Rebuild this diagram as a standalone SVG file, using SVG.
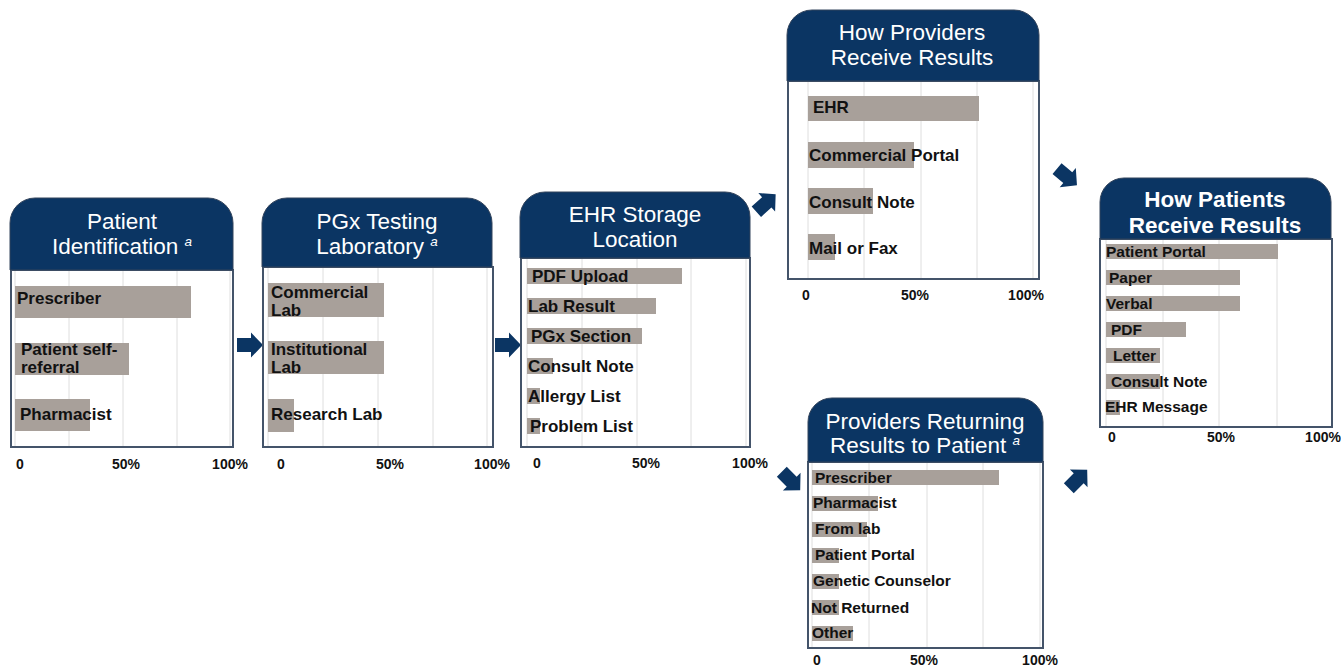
<svg xmlns="http://www.w3.org/2000/svg" xmlns:xlink="http://www.w3.org/1999/xlink" width="1341" height="669" viewBox="0 0 1341 669">
<style>
.hdr{fill:#0b3563;stroke:#33445c;stroke-width:1}
.body{fill:#ffffff;stroke:#44546a;stroke-width:2}
.grid{stroke:#dedede;stroke-width:1}
.bar{fill:#a8a09a}
.ht{font-family:"Liberation Sans",Arial,sans-serif;font-size:22.5px;fill:#ffffff;text-anchor:middle}
.htb{font-family:"Liberation Sans",Arial,sans-serif;font-size:22.5px;font-weight:bold;fill:#ffffff;text-anchor:middle}
.sup{font-style:italic;font-size:13.5px}
.lb{font-family:"Liberation Sans",Arial,sans-serif;font-weight:bold;fill:#111111}
.l17{font-size:17px}
.l16{font-size:17px}
.l15{font-size:15.5px}
.ax{font-family:"Liberation Sans",Arial,sans-serif;font-weight:bold;font-size:14px;fill:#111111;text-anchor:middle}
.arrow{fill:#0b3563}
</style>
<defs>
<path id="arr" d="M-13,-7 H1 V-12.5 L13,0 L1,12.5 V7 H-13 Z"/>
</defs>

<g id="connectors" class="arrow">
<use xlink:href="#arr" href="#arr" transform="translate(250,345)"/>
<use xlink:href="#arr" href="#arr" transform="translate(508,345)"/>
<use xlink:href="#arr" href="#arr" transform="translate(766,203) rotate(-42)"/>
<use xlink:href="#arr" href="#arr" transform="translate(791,481) rotate(45)"/>
<use xlink:href="#arr" href="#arr" transform="translate(1067,177) rotate(40)"/>
<use xlink:href="#arr" href="#arr" transform="translate(1078,479) rotate(-45)"/>
</g>

<g id="patient-identification">
<rect class="body" x="11" y="270" width="222" height="177"/>
<g class="grid"><line x1="15" y1="271" x2="15" y2="446"/><line x1="69" y1="271" x2="69" y2="446"/><line x1="123" y1="271" x2="123" y2="446"/><line x1="177" y1="271" x2="177" y2="446"/><line x1="230" y1="271" x2="230" y2="446"/></g>
<rect class="bar" x="15" y="286" width="176" height="32"/>
<rect class="bar" x="15" y="343" width="114" height="32"/>
<rect class="bar" x="15" y="399" width="75" height="32"/>
<text class="lb l17" x="17" y="304">Prescriber</text>
<text class="lb l17" x="21" y="355">Patient self-</text>
<text class="lb l17" x="21" y="373">referral</text>
<text class="lb l17" x="20" y="420">Pharmacist</text>
<path class="hdr" d="M10,270 V223 A25,25 0 0 1 35,198 H208 A25,25 0 0 1 233,223 V270 Z"/>
<text class="ht" x="122" y="229">Patient</text>
<text class="ht" x="122" y="254">Identification <tspan class="sup" dy="-8">a</tspan></text>
<text class="ax" x="20" y="469">0</text>
<text class="ax" x="126" y="469">50%</text>
<text class="ax" x="230" y="469">100%</text>
</g>

<g id="pgx-testing-laboratory">
<rect class="body" x="263" y="267" width="230" height="180"/>
<g class="grid"><line x1="268" y1="268" x2="268" y2="446"/><line x1="323" y1="268" x2="323" y2="446"/><line x1="378" y1="268" x2="378" y2="446"/><line x1="433" y1="268" x2="433" y2="446"/><line x1="487" y1="268" x2="487" y2="446"/></g>
<rect class="bar" x="268" y="283" width="116" height="34"/>
<rect class="bar" x="268" y="341" width="116" height="33"/>
<rect class="bar" x="268" y="399" width="26" height="33"/>
<text class="lb l17" x="271" y="298">Commercial</text>
<text class="lb l17" x="271" y="316">Lab</text>
<text class="lb l17" x="271" y="355">Institutional</text>
<text class="lb l17" x="271" y="373">Lab</text>
<text class="lb l17" x="271" y="420">Research Lab</text>
<path class="hdr" d="M262,267 V223 A25,25 0 0 1 287,198 H467 A25,25 0 0 1 492,223 V267 Z"/>
<text class="ht" x="377" y="229">PGx Testing</text>
<text class="ht" x="377" y="254">Laboratory <tspan class="sup" dy="-8">a</tspan></text>
<text class="ax" x="281" y="469">0</text>
<text class="ax" x="390" y="469">50%</text>
<text class="ax" x="492" y="469">100%</text>
</g>

<g id="ehr-storage-location">
<rect class="body" x="521" y="258" width="229" height="189"/>
<g class="grid"><line x1="527" y1="259" x2="527" y2="446"/><line x1="582" y1="259" x2="582" y2="446"/><line x1="637" y1="259" x2="637" y2="446"/><line x1="691" y1="259" x2="691" y2="446"/><line x1="746" y1="259" x2="746" y2="446"/></g>
<rect class="bar" x="527" y="268" width="155" height="16"/>
<rect class="bar" x="527" y="298" width="129" height="16"/>
<rect class="bar" x="527" y="328" width="115" height="16"/>
<rect class="bar" x="527" y="358" width="26" height="16"/>
<rect class="bar" x="527" y="388" width="13" height="16"/>
<rect class="bar" x="527" y="418" width="13" height="16"/>
<text class="lb l17" x="532" y="282">PDF Upload</text>
<text class="lb l17" x="528" y="312">Lab Result</text>
<text class="lb l17" x="531" y="342">PGx Section</text>
<text class="lb l17" x="528" y="372">Consult Note</text>
<text class="lb l17" x="528" y="402">Allergy List</text>
<text class="lb l17" x="530" y="432">Problem List</text>
<path class="hdr" d="M520,258 V217 A25,25 0 0 1 545,192 H725 A25,25 0 0 1 750,217 V258 Z"/>
<text class="ht" x="635" y="222">EHR Storage</text>
<text class="ht" x="635" y="247">Location</text>
<text class="ax" x="537" y="468">0</text>
<text class="ax" x="646" y="468">50%</text>
<text class="ax" x="750" y="468">100%</text>
</g>

<g id="how-providers-receive-results">
<rect class="body" x="788" y="81" width="251" height="198"/>
<g class="grid"><line x1="808" y1="82" x2="808" y2="278"/><line x1="864" y1="82" x2="864" y2="278"/><line x1="921" y1="82" x2="921" y2="278"/><line x1="977" y1="82" x2="977" y2="278"/><line x1="1033" y1="82" x2="1033" y2="278"/></g>
<rect class="bar" x="808" y="96" width="171" height="25"/>
<rect class="bar" x="808" y="142" width="106" height="26"/>
<rect class="bar" x="808" y="188" width="65" height="26"/>
<rect class="bar" x="808" y="234" width="27" height="26"/>
<text class="lb l16" x="813" y="113">EHR</text>
<text class="lb l16" x="809" y="161">Commercial Portal</text>
<text class="lb l16" x="809" y="208">Consult Note</text>
<text class="lb l16" x="809" y="254">Mail or Fax</text>
<path class="hdr" d="M787,81 V35 A25,25 0 0 1 812,10 H1014 A25,25 0 0 1 1039,35 V81 Z"/>
<text class="ht" x="912" y="40">How Providers</text>
<text class="ht" x="912" y="65">Receive Results</text>
<text class="ax" x="806" y="300">0</text>
<text class="ax" x="915" y="300">50%</text>
<text class="ax" x="1026" y="300">100%</text>
</g>

<g id="providers-returning-results">
<rect class="body" x="808" y="462" width="235" height="186"/>
<g class="grid"><line x1="812" y1="463" x2="812" y2="647"/><line x1="869" y1="463" x2="869" y2="647"/><line x1="927" y1="463" x2="927" y2="647"/><line x1="983" y1="463" x2="983" y2="647"/><line x1="1040" y1="463" x2="1040" y2="647"/></g>
<rect class="bar" x="812" y="470" width="187" height="15"/>
<rect class="bar" x="812" y="496" width="66" height="15"/>
<rect class="bar" x="812" y="522" width="55" height="15"/>
<rect class="bar" x="812" y="548" width="27" height="15"/>
<rect class="bar" x="812" y="574" width="27" height="15"/>
<rect class="bar" x="812" y="600" width="27" height="15"/>
<rect class="bar" x="812" y="626" width="41" height="15"/>
<text class="lb l15" x="815" y="483">Prescriber</text>
<text class="lb l15" x="813" y="508">Pharmacist</text>
<text class="lb l15" x="815" y="534">From lab</text>
<text class="lb l15" x="815" y="560">Patient Portal</text>
<text class="lb l15" x="813" y="586">Genetic Counselor</text>
<text class="lb l15" x="811" y="613">Not Returned</text>
<text class="lb l15" x="812" y="638">Other</text>
<path class="hdr" d="M808,462 V422 A24,24 0 0 1 832,398 H1019 A24,24 0 0 1 1043,422 V462 Z"/>
<text class="ht" x="925" y="429">Providers Returning</text>
<text class="ht" x="925" y="453">Results to Patient <tspan class="sup" dy="-8">a</tspan></text>
<text class="ax" x="817" y="665">0</text>
<text class="ax" x="924" y="665">50%</text>
<text class="ax" x="1040" y="665">100%</text>
</g>

<g id="how-patients-receive-results">
<rect class="body" x="1100" y="239" width="232" height="188"/>
<g class="grid"><line x1="1106" y1="240" x2="1106" y2="426"/><line x1="1163" y1="240" x2="1163" y2="426"/><line x1="1219" y1="240" x2="1219" y2="426"/><line x1="1277" y1="240" x2="1277" y2="426"/></g>
<rect class="bar" x="1106" y="244" width="172" height="15"/>
<rect class="bar" x="1106" y="270" width="134" height="15"/>
<rect class="bar" x="1106" y="296" width="134" height="15"/>
<rect class="bar" x="1106" y="322" width="80" height="15"/>
<rect class="bar" x="1106" y="348" width="54" height="15"/>
<rect class="bar" x="1106" y="374" width="54" height="15"/>
<rect class="bar" x="1106" y="400" width="14" height="15"/>
<text class="lb l15" x="1106" y="257">Patient Portal</text>
<text class="lb l15" x="1109" y="283">Paper</text>
<text class="lb l15" x="1106" y="309">Verbal</text>
<text class="lb l15" x="1111" y="335">PDF</text>
<text class="lb l15" x="1113" y="361">Letter</text>
<text class="lb l15" x="1111" y="387">Consult Note</text>
<text class="lb l15" x="1105" y="412">EHR Message</text>
<path class="hdr" d="M1100,239 V202 A24,24 0 0 1 1124,178 H1307 A24,24 0 0 1 1331,202 V239 Z"/>
<text class="htb" x="1215" y="207">How Patients</text>
<text class="htb" x="1215" y="233">Receive Results</text>
<text class="ax" x="1112" y="442">0</text>
<text class="ax" x="1221" y="442">50%</text>
<text class="ax" x="1323" y="442">100%</text>
</g>
</svg>
